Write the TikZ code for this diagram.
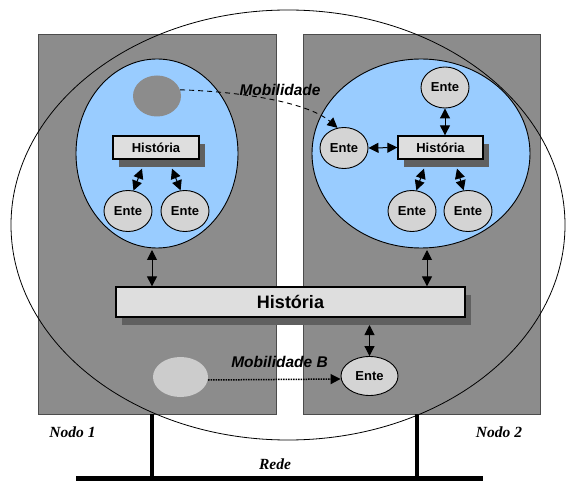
\documentclass[tikz,border=0pt]{standalone}
\usepackage{fontspec}
\setmainfont{Liberation Serif}
\newfontfamily\arialf{Liberation Sans}
\usetikzlibrary{shapes.geometric,arrows.meta,calc,shadows}
\definecolor{panelgray}{HTML}{8C8C8C}
\definecolor{skyblue}{HTML}{99CCFF}
\definecolor{entegray}{HTML}{D4D4D4}
\definecolor{histfill}{HTML}{DEDEDE}
\definecolor{shadowgray}{HTML}{606060}
\definecolor{lightblob}{HTML}{CCCCCC}
\tikzset{
  panel/.style={draw=black!70,line width=0.6pt,fill=panelgray},
  bluedom/.style={ellipse,draw=black,line width=0.9pt,fill=skyblue,inner sep=0pt},
  ente/.style={ellipse,draw=black,line width=0.9pt,fill=entegray,inner sep=0pt,
    minimum width=48pt,minimum height=41pt,font=\arialf\bfseries\fontsize{13}{15}\selectfont},
  histbox/.style={rectangle,draw=black,line width=1.3pt,fill=histfill,inner sep=0pt,
    drop shadow={shadow xshift=6pt,shadow yshift=-8pt,fill=shadowgray,opacity=1}},
  blob/.style={ellipse,inner sep=0pt},
  dbl/.style={{Triangle[length=10pt,width=10pt]}-{Triangle[length=10pt,width=10pt]},line width=1pt},
  tip/.style={-{Triangle[length=10pt,width=10pt]}},
  mob/.style={font=\arialf\bfseries\itshape\fontsize{15.5}{17}\selectfont},
  nodolbl/.style={font=\bfseries\itshape\fontsize{15.5}{17}\selectfont},
  net/.style={line width=4.5pt,black}
}
\begin{document}
\begin{tikzpicture}[x=1pt,y=-1pt]
\useasboundingbox (0,0) rectangle (568,481);
% panels
\node[panel,rectangle,inner sep=0pt,minimum width=238pt,minimum height=380pt] (p1) at (157,224) {};
\node[panel,rectangle,inner sep=0pt,minimum width=237pt,minimum height=380pt] (p2) at (421.5,224) {};
% blue domains
\node[bluedom,minimum width=162pt,minimum height=189pt] (d1) at (157,153.5) {};
\node[bluedom,minimum width=218pt,minimum height=189pt] (d2) at (421,153.5) {};
% left domain content
\node[blob,fill=panelgray,minimum width=48pt,minimum height=41pt] (gb) at (157,96) {};
\node[histbox,minimum width=86pt,minimum height=23pt,font=\arialf\bfseries\fontsize{13}{15}\selectfont] (hl) at (156,147.5) {História};
\node[ente] (e1) at (128,211) {Ente};
\node[ente] (e2) at (185,211) {Ente};
\draw[dbl] ($(hl.south)+(-14,9)$) -- (e1.75);
\draw[dbl] ($(hl.south)+(16,9)$) -- (e2.102);
% right domain content
\node[histbox,minimum width=85pt,minimum height=23pt,font=\arialf\bfseries\fontsize{13}{15}\selectfont] (hr) at (440.5,147.5) {História};
\node[ente] (et) at (445,87.5) {Ente};
\node[ente] (el) at (344,148) {Ente};
\node[ente] (eb1) at (412,211) {Ente};
\node[ente] (eb2) at (468,211) {Ente};
\draw[dbl] (et.south) -- (et.south |- hr.north);
\draw[dbl] (el.east) -- (hr.west);
\draw[dbl] ($(hr.south)+(-16.5,9)$) -- (eb1.78);
\draw[dbl] ($(hr.south)+(16.5,9)$) -- (eb2.102);
% big history bar
\node[histbox,minimum width=349pt,minimum height=30pt,font=\arialf\bfseries\fontsize{18}{20}\selectfont] (hb) at (290.5,302) {História};
\coordinate (a1s) at (152,250);
\coordinate (a2s) at (427,250);
\draw[dbl] (a1s) -- (a1s |- hb.north);
\draw[dbl] (a2s) -- (a2s |- hb.north);
% bottom mobility
\node[blob,fill=lightblob,minimum width=55pt,minimum height=40pt] (lb) at (180.5,377) {};
\node[ente,minimum width=57pt,minimum height=39pt] (en) at (369.5,376) {Ente};
\coordinate (a3s) at (369.5,325);
\draw[dbl] (a3s) -- (en.north);
\draw[tip,densely dotted,line width=1.5pt] ($(lb.east)+(0,3)$) -- ($(en.west)+(0,3)$);
\node[mob] (mobB) at (279.5,361.5) {Mobilidade B};
% mobility curve
\draw[tip,dashed,line width=0.9pt,dash pattern=on 5pt off 4pt] (gb.15) .. controls (250,92) and (310,104) .. (el.108);
\node[mob] (mobA) at (280,90) {Mobilidade};
% big enclosing ellipse
\node[ellipse,draw=black,line width=0.8pt,minimum width=554pt,minimum height=430pt,inner sep=0pt] (big) at (288,225) {};
% network
\coordinate (n1) at (152,414);
\coordinate (n2) at (417,414);
\coordinate (rl) at (76,478.5);
\coordinate (rr) at (483,478.5);
\draw[net] (n1) -- (n1 |- rl);
\draw[net] (n2) -- (n2 |- rl);
\draw[net,line width=5pt] (rl) -- (rr);
\node[nodolbl] (nodo1) at (72.5,432) {Nodo 1};
\node[nodolbl] (nodo2) at (499,432) {Nodo 2};
\node[nodolbl] (rede) at (275,464) {Rede};
\end{tikzpicture}
\end{document}
